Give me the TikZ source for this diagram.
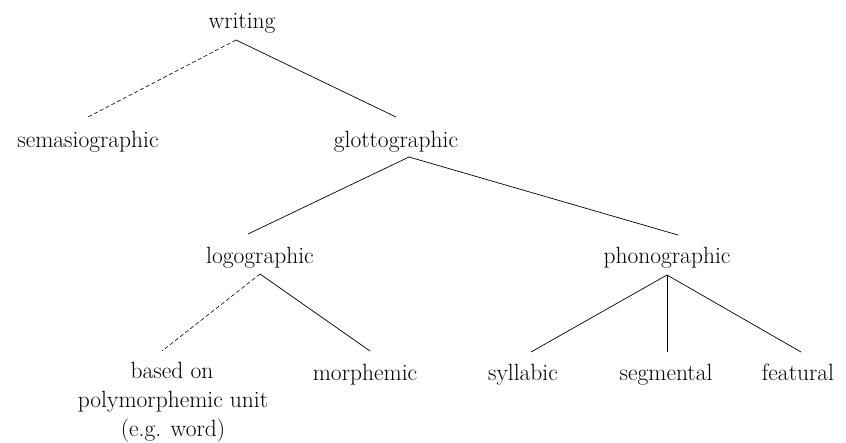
\documentclass[tikz,border=0pt]{standalone}
\begin{document}
\begin{tikzpicture}[x=1pt,y=-1pt,
  lbl/.style={anchor=base,inner sep=0pt,font=\fontsize{23.5}{29}\selectfont,align=center},
  edge/.style={line width=0.7pt},
  dedge/.style={line width=0.6pt,dash pattern=on 4pt off 2.5pt}]
\useasboundingbox (0,0) rectangle (846,442);
% labels
\node[lbl] (writing) at (242,28) {writing};
\node[lbl] (sema) at (88,147) {semasiographic};
\node[lbl] (glotto) at (396,147) {glottographic};
\node[lbl] (logo) at (260,263) {logographic};
\node[lbl] (phono) at (667,263) {phonographic};
\node[lbl] (based) at (172,378) {based on};
\node[lbl] (poly) at (173,407) {polymorphemic unit};
\node[lbl] (eg) at (173,436) {(e.g. word)};
\node[lbl] (morph) at (365,380) {morphemic};
\node[lbl] (syll) at (523,380) {syllabic};
\node[lbl] (segm) at (666,380) {segmental};
\node[lbl] (feat) at (798,380) {featural};
% connector points
\coordinate (writing-b) at (236,40);
\coordinate (sema-t) at (88,117);
\coordinate (glotto-t) at (396,117);
\coordinate (glotto-b) at (409,157);
\coordinate (logo-t) at (248,234);
\coordinate (phono-t) at (678,235);
\coordinate (logo-b) at (260,274);
\coordinate (based-t) at (162,351);
\coordinate (morph-t) at (370,351);
\coordinate (phono-b) at (667,275);
\coordinate (syll-t) at (531,352);
\coordinate (segm-t) at (667,352);
\coordinate (feat-t) at (801,352);
% connectors
\draw[dedge] (writing-b) -- (sema-t);
\draw[edge] (writing-b) -- (glotto-t);
\draw[edge] (glotto-b) -- (logo-t);
\draw[edge] (glotto-b) -- (phono-t);
\draw[dedge] (logo-b) -- (based-t);
\draw[edge] (logo-b) -- (morph-t);
\draw[edge] (phono-b) -- (syll-t);
\draw[edge] (phono-b) -- (segm-t);
\draw[edge] (phono-b) -- (feat-t);
\end{tikzpicture}
\end{document}
